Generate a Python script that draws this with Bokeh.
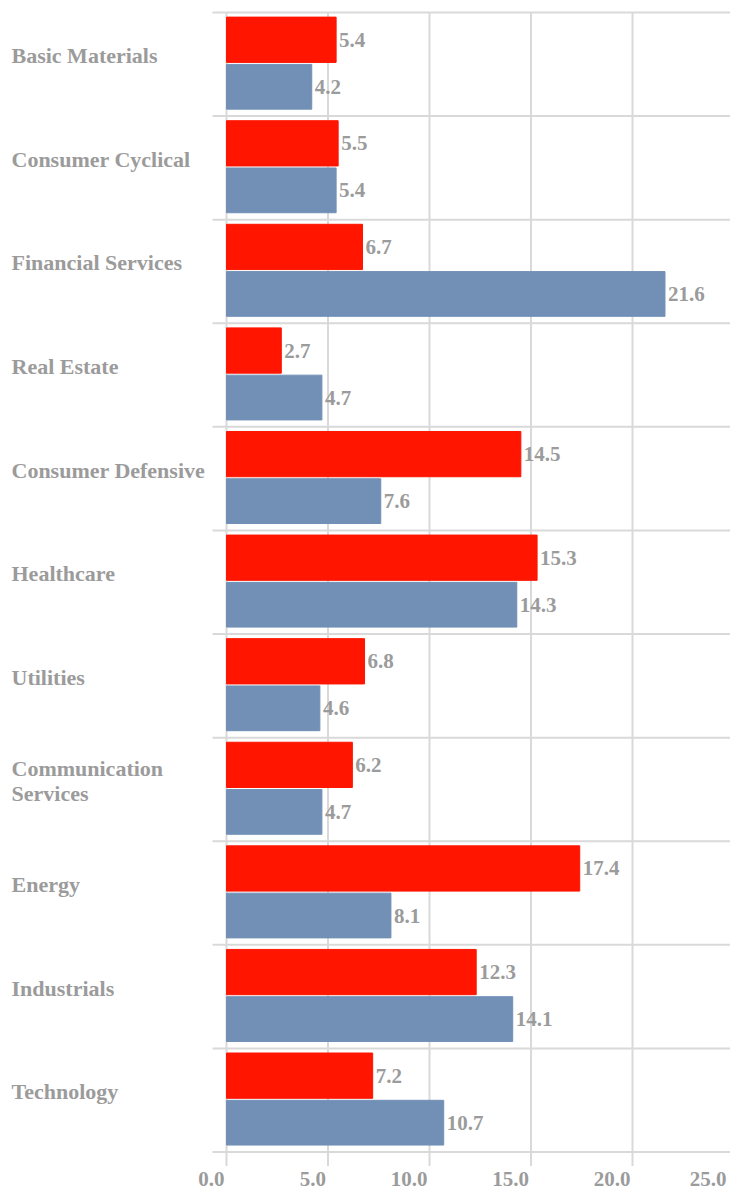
from bokeh.plotting import figure
from bokeh.models import ColumnDataSource, Range1d
from bokeh.core.properties import value
from bokeh.embed import file_html
from bokeh.resources import INLINE

# ---- data ----
categories = ["Basic Materials", "Consumer Cyclical", "Financial Services", "Real Estate",
              "Consumer Defensive", "Healthcare", "Utilities", "Communication\nServices",
              "Energy", "Industrials", "Technology"]
series_red = [5.4, 5.5, 6.7, 2.7, 14.5, 15.3, 6.8, 6.2, 17.4, 12.3, 7.2]
series_blue = [4.2, 5.4, 21.6, 4.7, 7.6, 14.3, 4.6, 4.7, 8.1, 14.1, 10.7]
x_ticks = [0, 5, 10, 15, 20, 25]
x_tick_labels = ["0.0", "5.0", "10.0", "15.0", "20.0", "25.0"]

# ---- style / layout (pixels) ----
W, H = 730, 1191
ZERO_PX = 226.0        # pixel column of value 0
PX_PER_UNIT = 20.3     # pixels per value unit
AXIS_PY = 1151.5       # pixel row of the bottom axis line
TOP_PY = 12.0          # pixel row of the top separator
PLOT_LEFT_PX = 212.0   # where separators start
RED = "#FF1500"
BLUE = "#7290B6"
GRAY = "#9b9b9b"
GRID = "#d9d9d9"
FONT = value("Liberation Serif")

n = len(categories)
px_y = (AXIS_PY - TOP_PY) / n

X0 = -ZERO_PX / PX_PER_UNIT
X1 = (W - ZERO_PX) / PX_PER_UNIT
Y0 = -(H - AXIS_PY) / px_y
Y1 = n + TOP_PY / px_y

centers = [n - i - 0.5 for i in range(n)]

src = ColumnDataSource(dict(
    y_red=[c + 0.237 for c in centers],
    y_blue=[c - 0.217 for c in centers],
    red=series_red,
    blue=series_blue,
    lab_red=[f"{v:.1f}" for v in series_red],
    lab_blue=[f"{v:.1f}" for v in series_blue],
))

p = figure(width=W, height=H, x_range=Range1d(X0, X1), y_range=Range1d(Y0, Y1),
           output_backend="svg", toolbar_location=None,
           x_axis_location=None, y_axis_location=None,
           min_border=0, min_border_left=0, min_border_right=0,
           min_border_top=0, min_border_bottom=0)
p.outline_line_color = None
p.xgrid.visible = False
p.ygrid.visible = False
p.background_fill_color = "white"
p.border_fill_color = "white"

# vertical grid lines (+ tick marks below the axis line)
tick_len = 14.0 / px_y
p.segment(x0=x_ticks, x1=x_ticks, y0=[n] * len(x_ticks), y1=[-tick_len] * len(x_ticks),
          line_color=GRID, line_width=2)

# horizontal separators (category boundaries, bottom one acts as axis line)
sep_x0 = (PLOT_LEFT_PX - ZERO_PX) / PX_PER_UNIT
bounds = list(range(n + 1))
p.segment(x0=[sep_x0] * len(bounds), x1=[X1] * len(bounds), y0=bounds, y1=bounds,
          line_color=GRID, line_width=2)

# bars
p.hbar(y="y_red", left=0, right="red", height=0.437, color=RED, source=src)
p.hbar(y="y_blue", left=0, right="blue", height=0.432, color=BLUE, source=src)

common = dict(text_baseline="middle", text_align="left", text_font=FONT,
              text_font_style="bold", text_font_size="21px", text_color=GRAY, x_offset=3)
p.text(x="red", y="y_red", text="lab_red", source=src, **common)
p.text(x="blue", y="y_blue", text="lab_blue", source=src, **common)

# x tick labels (right-aligned at the ticks, kept inside the canvas)
tick_px = [ZERO_PX + t * PX_PER_UNIT for t in x_ticks]
tick_src = ColumnDataSource(dict(
    x=x_ticks,
    y=[-(1178.0 - AXIS_PY) / px_y] * len(x_ticks),
    text=x_tick_labels,
    off=[min(tp - 2.0, W - 4.0) - tp for tp in tick_px],
))
p.text(x="x", y="y", text="text", x_offset="off", source=tick_src,
       text_align="right", text_baseline="middle", text_font=FONT,
       text_font_style="bold", text_font_size="21px", text_color=GRAY)

# category labels (left-aligned)
x_cat = (11.0 - ZERO_PX) / PX_PER_UNIT
p.text(x=[x_cat] * n, y=[c + 8.5 / px_y for c in centers], text=categories,
       text_align="left", text_baseline="middle", text_font=FONT,
       text_font_style="bold", text_font_size="22px", text_color=GRAY,
       text_line_height=1.03)

open("out.html", "w").write(file_html(p, INLINE))
